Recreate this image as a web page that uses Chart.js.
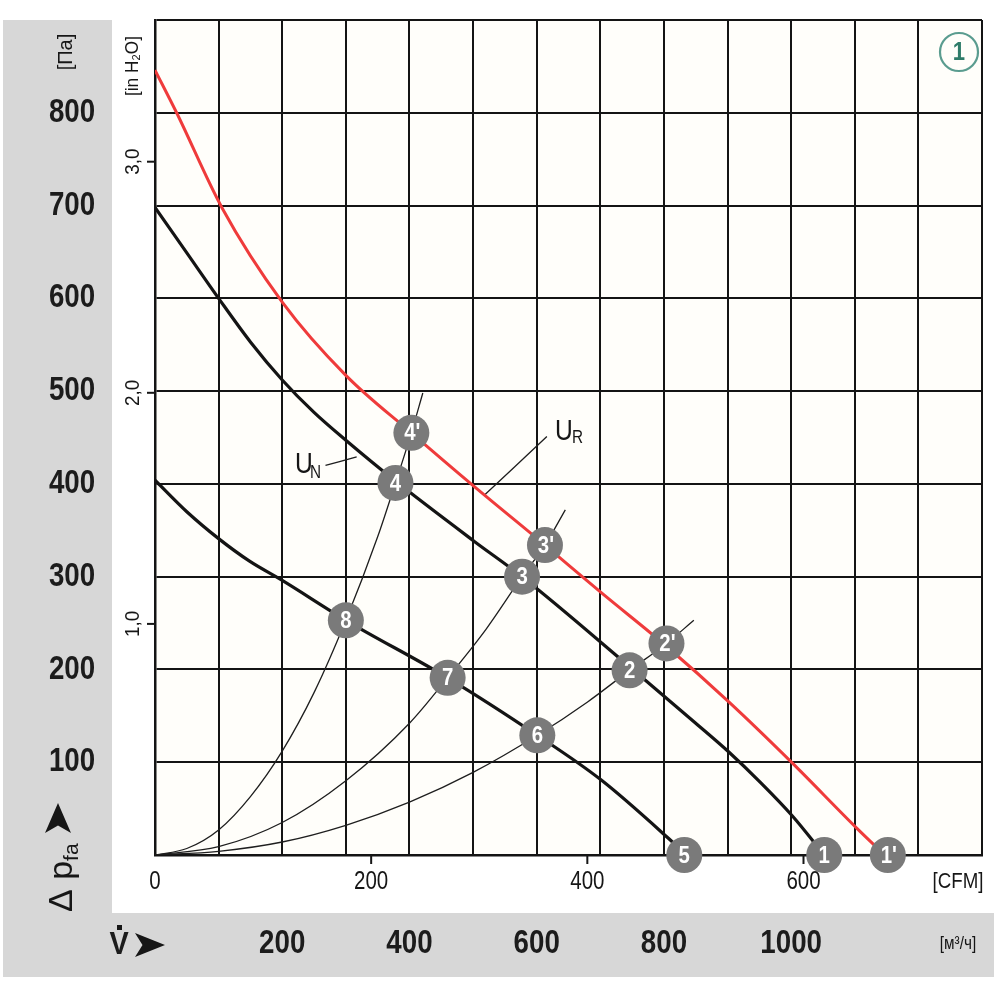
<!DOCTYPE html>
<html><head><meta charset="utf-8">
<script src="https://cdn.jsdelivr.net/npm/chart.js@4.4.1/dist/chart.umd.min.js"></script>
<style>html,body{margin:0;padding:0;background:#fff;}#wrap{width:1000px;height:1000px;position:relative;}</style>
</head><body><div id="wrap"><canvas id="c" width="1000" height="1000"></canvas></div>
<script>
// ---- tick labels ----
const PA_TICKS = [100, 200, 300, 400, 500, 600, 700, 800];
const INH2O_TICKS = [1, 2, 3];
const INH2O_LABELS = ['1,0', '2,0', '3,0'];
const CFM_TICKS = [0, 200, 400, 600];
const M3H_TICKS = [200, 400, 600, 800, 1000];
const PA_PER_INH2O = 249.09;
const M3H_PER_CFM = 1.699;

// ---- fan curves (V in m³/h, Δp in Pa) ----
const redV = [0, 34, 105, 200, 300, 403, 502, 613, 701, 804, 902, 1002, 1103, 1147];
const redP = [846, 800, 698, 596, 517, 455, 397, 334, 283, 225, 165, 99, 29, 0];
const unV = [0, 50, 100, 150, 200, 250, 300, 378, 502, 577, 746, 850, 902, 952, 1002, 1052];
const unP = [698, 649, 600, 553, 512, 477, 447, 403, 338, 300, 203, 142, 111, 78, 42, 0];
const lowV = [0, 50, 100, 148, 200, 300, 460, 601, 701, 807, 835];
const lowP = [404, 370, 341, 317, 296, 253, 191, 129, 81, 18, 0];

// ---- system curves ----
const sysAV = [0, 50, 100, 150, 200, 250, 300, 350, 378, 403, 421];
const sysAP = [0, 7, 27, 63, 112, 175, 253, 343, 401, 455, 498];
const sysBV = [0, 100, 200, 300, 400, 460, 520, 577, 613, 645];
const sysBP = [0, 9, 35, 80, 142, 191, 243, 300, 334, 372];
const sysCV = [0, 100, 200, 300, 400, 500, 601, 680, 746, 804, 847];
const sysCP = [0, 4, 14, 32, 57, 89, 129, 165, 199, 228, 253];

// ---- leader lines for curve names ----
const leadNV = [268, 317]; const leadNP = [420, 429];
const leadRV = [518, 616]; const leadRP = [388, 451];

// ---- operating point markers ----
const markLabels = ['1', "1'", '2', "2'", '3', "3'", '4', "4'", '5', '6', '7', '8'];
const markV = [1052, 1152, 746, 804, 577, 613, 378, 403, 832, 601, 460, 300];
const markP = [0, 0, 199, 228, 300, 334, 401, 455, 0, 129, 191, 253];

const zip = (a, b) => a.map((v, i) => ({x: v, y: b[i]}));
const FONT = '"Liberation Sans", Arial, sans-serif';

function txt(ctx, s, x, y, size, o) {
  o = o || {};
  ctx.save();
  ctx.translate(x, y);
  if (o.rot) ctx.rotate(o.rot);
  ctx.scale(o.sx || 1, 1);
  ctx.font = (o.weight || 'normal') + ' ' + size + 'px ' + FONT;
  ctx.fillStyle = o.color || '#161616';
  ctx.textAlign = o.align || 'center';
  ctx.textBaseline = o.base || 'middle';
  ctx.fillText(s, 0, 0);
  ctx.restore();
}
function arrowHead(ctx, cx, cy, len, half, rot) {
  ctx.save();
  ctx.translate(cx, cy); ctx.rotate(rot);
  ctx.beginPath();
  ctx.moveTo(len / 2, 0);
  ctx.lineTo(-len / 2, -half);
  ctx.lineTo(-len / 4, 0);
  ctx.lineTo(-len / 2, half);
  ctx.closePath();
  ctx.fillStyle = '#161616'; ctx.fill();
  ctx.restore();
}

const decor = {
  id: 'decor',
  beforeDraw(chart) {
    const ctx = chart.ctx, a = chart.chartArea;
    ctx.save();
    ctx.fillStyle = '#fff'; ctx.fillRect(0, 0, 1000, 1000);
    ctx.fillStyle = '#d7d7d7';
    ctx.fillRect(3, 20, 109, 957);
    ctx.fillRect(3, 913, 991, 64);
    ctx.fillStyle = '#fffefa';
    ctx.fillRect(a.left, a.top, a.right - a.left, a.bottom - a.top);
    ctx.restore();
  },
  afterDraw(chart) {
    const ctx = chart.ctx, xs = chart.scales.x, ys = chart.scales.y;
    // Pa labels
    PA_TICKS.forEach(v => txt(ctx, String(v), 72, ys.getPixelForValue(v), 33, {sx: 0.84, weight: 'bold', color: '#1c1c1c'}));
    txt(ctx, '[Па]', 66, 52, 21, {rot: -Math.PI / 2, sx: 0.95});
    // in H2O labels + ticks
    ctx.save(); ctx.strokeStyle = '#161616'; ctx.lineWidth = 2;
    INH2O_TICKS.forEach((v, i) => {
      const y = ys.getPixelForValue(v * PA_PER_INH2O);
      ctx.beginPath(); ctx.moveTo(147, y); ctx.lineTo(155, y); ctx.stroke();
      txt(ctx, INH2O_LABELS[i], 133, y, 21, {rot: -Math.PI / 2, sx: 0.9});
    });
    ctx.restore();
    txt(ctx, '[in H₂O]', 133, 66, 19, {rot: -Math.PI / 2, sx: 0.9});
    // CFM labels + ticks
    ctx.save(); ctx.strokeStyle = '#161616'; ctx.lineWidth = 2;
    CFM_TICKS.forEach(v => {
      const x = xs.getPixelForValue(v * M3H_PER_CFM);
      if (v > 0) { ctx.beginPath(); ctx.moveTo(x, 855); ctx.lineTo(x, 864); ctx.stroke(); }
      txt(ctx, String(v), x, 882, 25, {sx: 0.82});
    });
    ctx.restore();
    txt(ctx, '[CFM]', 958, 882, 22, {sx: 0.85});
    // m3/h labels
    M3H_TICKS.forEach(v => txt(ctx, String(v), xs.getPixelForValue(v), 944, 33, {sx: 0.84, weight: 'bold', color: '#1c1c1c'}));
    txt(ctx, '[м³/ч]', 958, 944, 18, {sx: 0.85});
    // V-dot arrow
    txt(ctx, 'V', 119, 945, 32, {sx: 0.9, weight: 'bold', color: '#1c1c1c'});
    ctx.fillStyle = '#161616'; ctx.fillRect(117, 925, 5, 5);
    arrowHead(ctx, 150, 945, 30, 12, 0);
    // Δ p_fa arrow (rotated)
    ctx.save();
    ctx.translate(72, 912); ctx.rotate(-Math.PI / 2);
    ctx.fillStyle = '#161616'; ctx.textAlign = 'left'; ctx.textBaseline = 'alphabetic';
    ctx.font = 'normal 34px ' + FONT;
    ctx.fillText('Δ', 0, 0);
    let w = ctx.measureText('Δ ').width;
    ctx.fillText('p', w, 0);
    w += ctx.measureText('p').width;
    ctx.font = 'normal 21px ' + FONT;
    ctx.fillText('fa', w, 6);
    ctx.restore();
    arrowHead(ctx, 58, 818, 30, 13, -Math.PI / 2);
    // curve names
    txt(ctx, 'U', 295, 473, 30, {sx: 0.82, align: 'left', base: 'alphabetic'});
    txt(ctx, 'N', 310, 478, 18, {sx: 0.85, align: 'left', base: 'alphabetic'});
    txt(ctx, 'U', 555, 440, 30, {sx: 0.82, align: 'left', base: 'alphabetic'});
    txt(ctx, 'R', 572, 443, 18, {sx: 0.85, align: 'left', base: 'alphabetic'});
    // circled 1
    ctx.save();
    ctx.beginPath(); ctx.arc(959, 52, 19, 0, Math.PI * 2);
    ctx.strokeStyle = '#5a9c8f'; ctx.lineWidth = 2.2; ctx.stroke();
    ctx.restore();
    txt(ctx, '1', 959, 53, 26, {weight: 'bold', color: '#2f7c69', sx: 0.85});
  },
  afterDatasetsDraw(chart) {
    const ctx = chart.ctx;
    const meta = chart.getDatasetMeta(0);
    meta.data.forEach((el, i) => {
      txt(ctx, markLabels[i], el.x + (markLabels[i].length > 1 ? 1 : 0), el.y + 1, 24, {weight: 'bold', color: '#fff', sx: 0.85});
    });
  }
};

const thin = (d) => ({type: 'line', data: d, borderColor: '#1e1e1e', borderWidth: 1.3, pointRadius: 0, cubicInterpolationMode: 'monotone', order: 5});
const thick = (d, c, w) => ({type: 'line', data: d, borderColor: c, borderWidth: w, pointRadius: 0, cubicInterpolationMode: 'monotone', order: 3});

new Chart(document.getElementById('c'), {
  type: 'line',
  data: {
    datasets: [
      {type: 'scatter', data: zip(markV, markP), pointRadius: 18, pointBackgroundColor: '#7a7a7a', pointBorderWidth: 0, borderWidth: 0, order: 0, clip: false, showLine: false},
      thick(zip(redV, redP), '#ef3b3b', 3),
      thick(zip(unV, unP), '#141414', 3.2),
      thick(zip(lowV, lowP), '#141414', 3.2),
      thin(zip(sysAV, sysAP)),
      thin(zip(sysBV, sysBP)),
      thin(zip(sysCV, sysCP)),
      thin(zip(leadNV, leadNP)),
      thin(zip(leadRV, leadRP))
    ]
  },
  options: {
    responsive: false,
    animation: false,
    events: [],
    devicePixelRatio: 1,
    layout: {padding: {left: 155, top: 20, right: 12, bottom: 145}},
    plugins: {legend: {display: false}, tooltip: {enabled: false}},
    scales: {
      x: {type: 'linear', min: 0, max: 1300, ticks: {stepSize: 100, display: false},
          grid: {color: '#141414', lineWidth: 2, drawTicks: false},
          border: {display: true, color: '#141414', width: 2.5},
          afterFit(s) { s.height = 0; }},
      y: {type: 'linear', min: 0, max: 900, ticks: {stepSize: 100, display: false},
          grid: {color: '#141414', lineWidth: 2, drawTicks: false},
          border: {display: true, color: '#141414', width: 2.5},
          afterFit(s) { s.width = 0; }}
    }
  },
  plugins: [decor]
});
</script></body></html>
